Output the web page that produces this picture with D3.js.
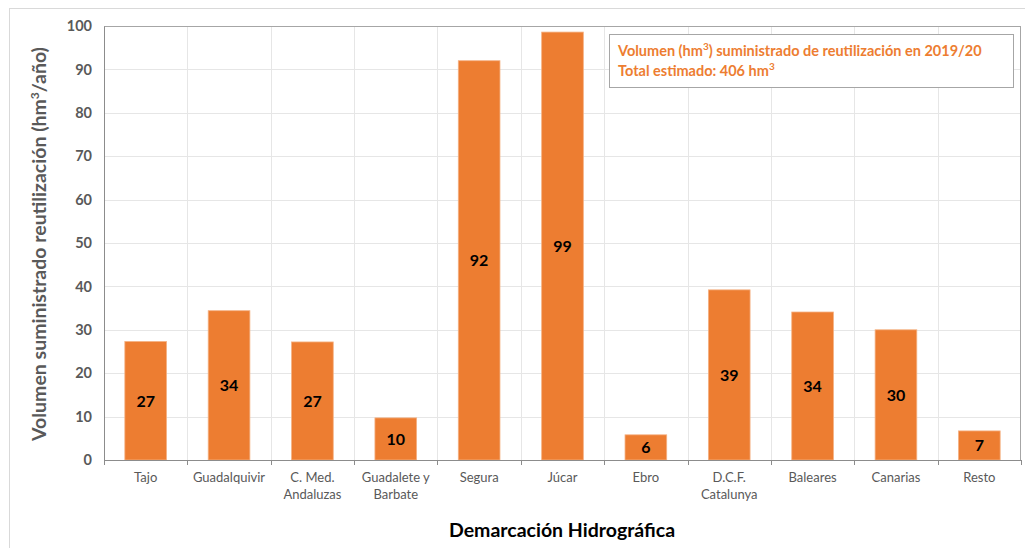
<!DOCTYPE html>
<html>
<head>
<meta charset="utf-8">
<script src="https://cdn.jsdelivr.net/npm/d3@7"></script>
<style>
  body { margin: 0; background: #fff; }
  svg { font-family: Lato, "Open Sans", sans-serif; }
</style>
</head>
<body>
<div id="chart"></div>
<script>
// datos: volumen de reutilización por demarcación
var demarcaciones = [
    ["Tajo"], ["Guadalquivir"], ["C. Med.", "Andaluzas"], ["Guadalete y", "Barbate"],
    ["Segura"], ["Júcar"], ["Ebro"], ["D.C.F.", "Catalunya"], ["Baleares"], ["Canarias"], ["Resto"]
];
var volumenes = [27.3, 34.4, 27.2, 9.7, 92.0, 98.6, 5.8, 39.2, 34.1, 30.0, 6.7];
var etiquetas = ["27", "34", "27", "10", "92", "99", "6", "39", "34", "30", "7"];
var ticksY = [0, 10, 20, 30, 40, 50, 60, 70, 80, 90, 100];

var margin = { top: 26, right: 4, bottom: 88, left: 104 },
    width = 1025 - margin.left - margin.right,
    height = 548 - margin.top - margin.bottom;

var svgRoot = d3.select("#chart")
    .append("svg")
    .attr("width", 1025)
    .attr("height", 548);

// marco exterior
svgRoot.append("rect")
    .attr("x", 9.5).attr("y", 8.5)
    .attr("width", 1030).attr("height", 560)
    .attr("fill", "none")
    .attr("stroke", "#d9d9d9");

var svg = svgRoot.append("g")
    .attr("transform", "translate(" + margin.left + "," + margin.top + ")");

var idx = d3.range(demarcaciones.length);

var x = d3.scaleBand()
    .domain(idx)
    .range([0, width])
    .paddingInner(0.5)
    .paddingOuter(0.25);

var y = d3.scaleLinear()
    .domain([0, 100])
    .range([height, 0]);

// rejilla horizontal
svg.append("g")
    .selectAll("line")
    .data(ticksY)
    .enter().append("line")
    .attr("x1", 0).attr("x2", width)
    .attr("y1", function(d) { return Math.round(y(d)) + 0.5; })
    .attr("y2", function(d) { return Math.round(y(d)) + 0.5; })
    .attr("stroke", "#e6e6e6");

// rejilla vertical entre categorías
var step = x.step();
svg.append("g")
    .selectAll("line")
    .data(d3.range(1, demarcaciones.length))
    .enter().append("line")
    .attr("x1", function(d) { return Math.round(x(d) - step * 0.25) + 0.5; })
    .attr("x2", function(d) { return Math.round(x(d) - step * 0.25) + 0.5; })
    .attr("y1", 0).attr("y2", height)
    .attr("stroke", "#e6e6e6");

// borde del área de trazado
svg.append("rect")
    .attr("x", 0.5).attr("y", 0.5)
    .attr("width", width - 1).attr("height", height)
    .attr("fill", "none")
    .attr("stroke", "#a6a6a6");

// barras
svg.append("g")
    .selectAll("rect")
    .data(idx)
    .enter().append("rect")
    .attr("x", function(d) { return x(d); })
    .attr("y", function(d) { return y(volumenes[d]); })
    .attr("width", x.bandwidth())
    .attr("height", function(d) { return height - y(volumenes[d]); })
    .attr("fill", "#ed7d31")
    .attr("stroke", "#f4b183")
    .attr("stroke-width", 0.8);

// etiquetas de valor
svg.append("g")
    .selectAll("text")
    .data(idx)
    .enter().append("text")
    .attr("x", function(d) { return x(d) + x.bandwidth() / 2; })
    .attr("y", function(d) { return (y(volumenes[d]) + height) / 2; })
    .attr("dy", "0.36em")
    .attr("text-anchor", "middle")
    .attr("font-size", 16)
    .attr("font-weight", "bold")
    .attr("fill", "#000")
    .text(function(d) { return etiquetas[d]; });

// eje Y
var yAxis = d3.axisLeft(y)
    .tickValues(ticksY)
    .tickSize(0)
    .tickPadding(12)
    .tickFormat(d3.format("d"));

var gy = svg.append("g").call(yAxis);
gy.select(".domain").attr("stroke", "#8c8c8c");
gy.selectAll("text")
    .attr("font-size", 14.5)
    .attr("font-weight", "bold")
    .attr("fill", "#595959")
    .style("font-family", "Lato, sans-serif");

// eje X
var gx = svg.append("g")
    .attr("transform", "translate(0," + height + ")");
gx.append("line")
    .attr("x1", 0).attr("x2", width)
    .attr("y1", 0.5).attr("y2", 0.5)
    .attr("stroke", "#8c8c8c");
gx.selectAll(".tick")
    .data(d3.range(0, demarcaciones.length + 1))
    .enter().append("line")
    .attr("class", "tick")
    .attr("x1", function(d) { return Math.round(d * step) + 0.5; })
    .attr("x2", function(d) { return Math.round(d * step) + 0.5; })
    .attr("y1", 0).attr("y2", 5)
    .attr("stroke", "#8c8c8c");

var labels = gx.selectAll(".lab")
    .data(idx)
    .enter().append("text")
    .attr("class", "lab")
    .attr("text-anchor", "middle")
    .attr("font-size", 13)
    .attr("fill", "#595959")
    .attr("transform", function(d) { return "translate(" + (x(d) + x.bandwidth() / 2) + ",22)"; });

labels.selectAll("tspan")
    .data(function(d) { return demarcaciones[d]; })
    .enter().append("tspan")
    .attr("x", 0)
    .attr("dy", function(d, i) { return i === 0 ? 0 : 17; })
    .text(function(d) { return d; });

// títulos de ejes
svgRoot.append("text")
    .attr("transform", "translate(46," + (margin.top + height / 2 + 1) + ") rotate(-90)")
    .attr("text-anchor", "middle")
    .attr("font-size", 19.5)
    .attr("font-weight", "bold")
    .attr("fill", "#595959")
    .html('Volumen suministrado reutilización (hm<tspan baseline-shift="super" font-size="12">3</tspan>/año)');

svgRoot.append("text")
    .attr("x", 562)
    .attr("y", 537)
    .attr("text-anchor", "middle")
    .attr("font-size", 19.5)
    .attr("font-weight", "bold")
    .attr("fill", "#000")
    .text("Demarcación Hidrográfica");

// leyenda
var leg = svgRoot.append("g");
leg.append("rect")
    .attr("x", 609.5).attr("y", 34.5)
    .attr("width", 404).attr("height", 53)
    .attr("fill", "#fff")
    .attr("stroke", "#a6a6a6");
leg.append("text")
    .attr("x", 618).attr("y", 56)
    .attr("font-size", 14.5)
    .attr("font-weight", "bold")
    .attr("fill", "#ed7d31")
    .html('Volumen (hm<tspan baseline-shift="super" font-size="10">3</tspan>) suministrado de reutilización en 2019/20');
leg.append("text")
    .attr("x", 618).attr("y", 76)
    .attr("font-size", 14.5)
    .attr("font-weight", "bold")
    .attr("fill", "#ed7d31")
    .html('Total estimado: 406 hm<tspan baseline-shift="super" font-size="10">3</tspan>');
</script>
</body>
</html>
